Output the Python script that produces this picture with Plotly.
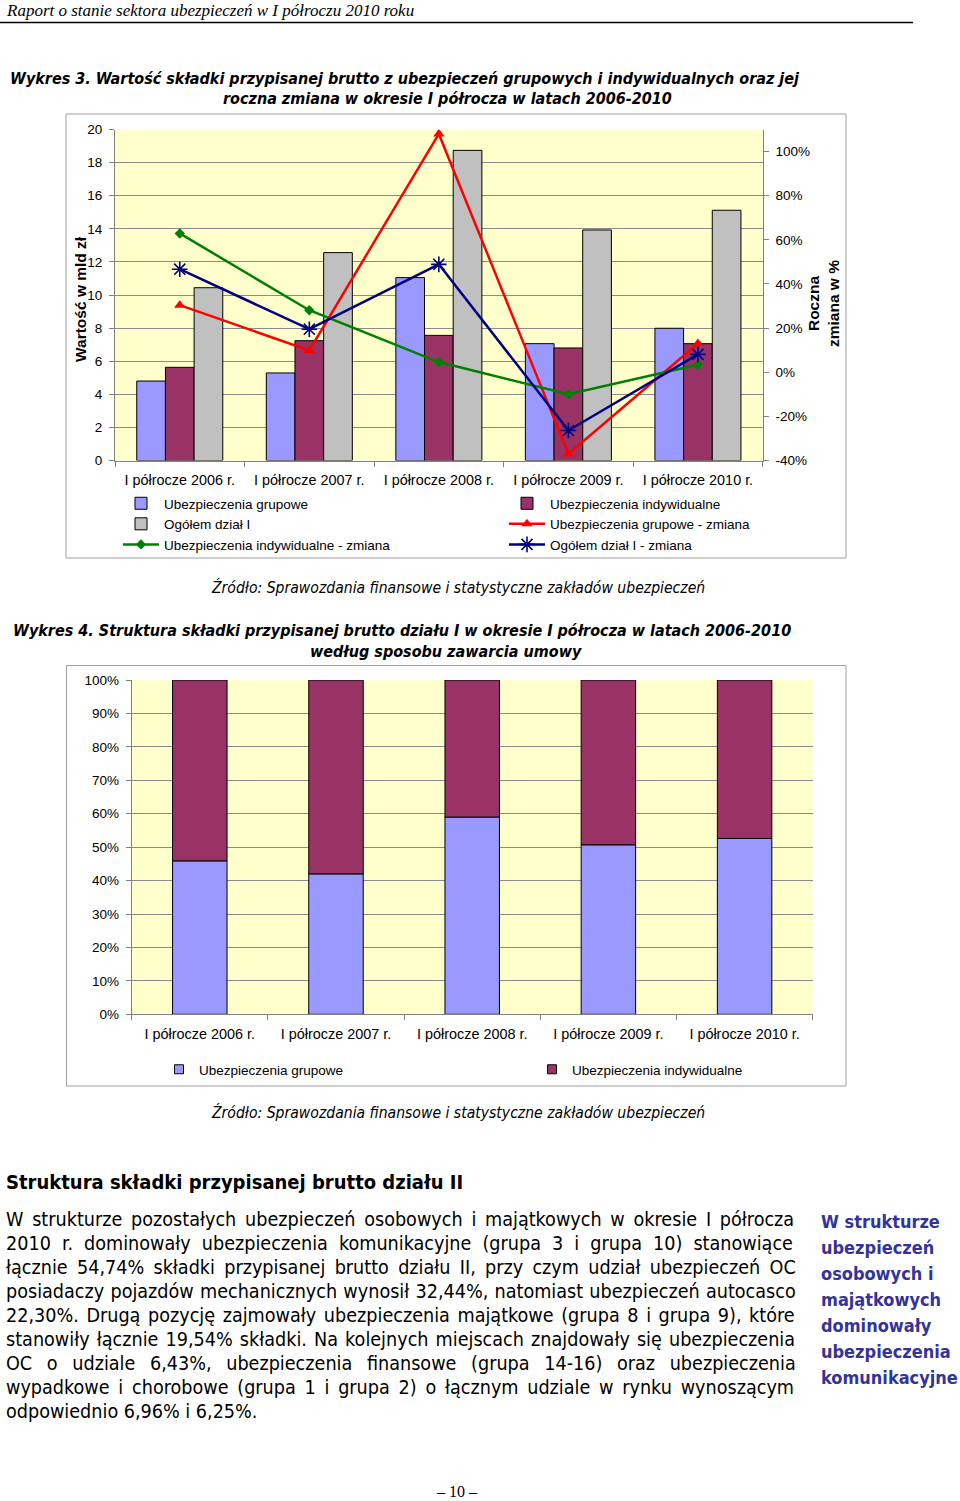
import glob
import struct

import plotly.graph_objects as go

W, H = 960, 1501


def px(x):
    return x / W


def py(y):
    return 1 - y / H


# ---------------- data ----------------
categories = ["I półrocze 2006 r.", "I półrocze 2007 r.", "I półrocze 2008 r.",
              "I półrocze 2009 r.", "I półrocze 2010 r."]
grupowe = [4.80, 5.29, 11.05, 7.06, 7.99]          # mld zł
indywidualne = [5.63, 7.24, 7.56, 6.80, 7.06]      # mld zł
ogolem = [10.44, 12.56, 18.74, 13.93, 15.12]       # mld zł
grupowe_zmiana = [30.4, 9.9, 108.0, -37.0, 13.0]   # %
indywidualne_zmiana = [62.9, 28.1, 4.6, -10.0, 3.4]
ogolem_zmiana = [46.7, 19.5, 48.9, -26.4, 8.1]
udzial_grupowe = [45.9, 42.0, 59.0, 50.7, 52.6]    # % share
udzial_indywidualne = [54.1, 58.0, 41.0, 49.3, 47.4]

left_ticks = [0, 2, 4, 6, 8, 10, 12, 14, 16, 18, 20]
right_ticks = [-40, -20, 0, 20, 40, 60, 80, 100]
right_labels = ["-40%", "-20%", "0%", "20%", "40%", "60%", "80%", "100%"]
pct_ticks = [0, 10, 20, 30, 40, 50, 60, 70, 80, 90, 100]
pct_labels = ["0%", "10%", "20%", "30%", "40%", "50%", "60%", "70%", "80%", "90%", "100%"]

# ---------------- styles ----------------
C_BLUE = "#9999FF"
C_MAROON = "#993366"
C_GRAY = "#C0C0C0"
C_RED = "#FF0000"
C_GREEN = "#008000"
C_NAVY = "#000080"
PLOT_BG = "#FFFFCC"
GRID = "#8C8C8C"
ARIAL = "Liberation Sans, Arial, sans-serif"
TAHOMA = "DejaVu Sans Condensed, DejaVu Sans, sans-serif"
SERIF = "Liberation Serif, Times New Roman, serif"


# ---------- font metrics (for justified paragraph) ----------
def load_width_fn(name):
    paths = glob.glob("/usr/share/fonts/**/" + name, recursive=True)
    if not paths:
        return None
    try:
        data = open(paths[0], "rb").read()
        num = struct.unpack(">H", data[4:6])[0]
        tables = {}
        for i in range(num):
            tag, _cs, off, ln = struct.unpack(">4sIII", data[12 + 16 * i:28 + 16 * i])
            tables[tag.decode("latin1")] = off
        head = tables["head"]
        upem = struct.unpack(">H", data[head + 18:head + 20])[0]
        hhea = tables["hhea"]
        nhm = struct.unpack(">H", data[hhea + 34:hhea + 36])[0]
        hmtx = tables["hmtx"]
        adv = [struct.unpack(">H", data[hmtx + 4 * i:hmtx + 4 * i + 2])[0] for i in range(nhm)]
        cmap = tables["cmap"]
        n = struct.unpack(">H", data[cmap + 2:cmap + 4])[0]
        sub = None
        for i in range(n):
            pid, eid, off = struct.unpack(">HHI", data[cmap + 4 + 8 * i:cmap + 12 + 8 * i])
            if pid == 3 and eid == 1:
                sub = cmap + off
        if sub is None or struct.unpack(">H", data[sub:sub + 2])[0] != 4:
            return None
        segx2 = struct.unpack(">H", data[sub + 6:sub + 8])[0]
        seg = segx2 // 2
        ends = struct.unpack(">%dH" % seg, data[sub + 14:sub + 14 + segx2])
        starts = struct.unpack(">%dH" % seg, data[sub + 16 + segx2:sub + 16 + 2 * segx2])
        deltas = struct.unpack(">%dh" % seg, data[sub + 16 + 2 * segx2:sub + 16 + 3 * segx2])
        rpos = sub + 16 + 3 * segx2
        roffs = struct.unpack(">%dH" % seg, data[rpos:rpos + segx2])

        def glyph(c):
            for i in range(seg):
                if ends[i] >= c:
                    if starts[i] > c:
                        return 0
                    if roffs[i] == 0:
                        return (c + deltas[i]) & 0xFFFF
                    addr = rpos + 2 * i + roffs[i] + 2 * (c - starts[i])
                    g = struct.unpack(">H", data[addr:addr + 2])[0]
                    return (g + deltas[i]) & 0xFFFF if g else 0
            return 0

        def width(s, size):
            return sum(adv[min(glyph(ord(ch)), nhm - 1)] for ch in s) * size / upem

        return width
    except Exception:
        return None


text_width = load_width_fn("DejaVuSansCondensed.ttf")

fig = go.Figure()

# ---------------- chart 1 ----------------
for name, vals, col in [("Ubezpieczenia grupowe", grupowe, C_BLUE),
                        ("Ubezpieczenia indywidualne", indywidualne, C_MAROON),
                        ("Ogółem dział I", ogolem, C_GRAY)]:
    fig.add_trace(go.Bar(x=categories, y=vals, name=name, xaxis="x", yaxis="y",
                         marker=dict(color=col, line=dict(color="black", width=1)),
                         legend="legend"))

fig.add_trace(go.Scatter(x=categories, y=grupowe_zmiana, name="Ubezpieczenia grupowe - zmiana",
                         xaxis="x", yaxis="y2", mode="lines+markers",
                         line=dict(color=C_RED, width=2.5),
                         marker=dict(symbol="triangle-up", size=10, color=C_RED),
                         legend="legend"))
fig.add_trace(go.Scatter(x=categories, y=indywidualne_zmiana, name="Ubezpieczenia indywidualne - zmiana",
                         xaxis="x", yaxis="y2", mode="lines+markers",
                         line=dict(color=C_GREEN, width=2.5),
                         marker=dict(symbol="diamond", size=8, color=C_GREEN),
                         legend="legend"))
fig.add_trace(go.Scatter(x=categories, y=ogolem_zmiana, name="Ogółem dział I - zmiana",
                         xaxis="x", yaxis="y2", mode="lines+markers",
                         line=dict(color=C_NAVY, width=2.5),
                         marker=dict(symbol="asterisk-open", size=13, color=C_NAVY,
                                     line=dict(color=C_NAVY, width=1.6)),
                         legend="legend"))

# ---------------- chart 2 ----------------
fig.add_trace(go.Bar(x=categories, y=udzial_grupowe, name="Ubezpieczenia grupowe",
                     xaxis="x2", yaxis="y3", offsetgroup="s", offset=-0.2, width=0.4,
                     marker=dict(color=C_BLUE, line=dict(color="black", width=1)),
                     showlegend=False))
fig.add_trace(go.Bar(x=categories, y=udzial_indywidualne, base=udzial_grupowe,
                     name="Ubezpieczenia indywidualne",
                     xaxis="x2", yaxis="y3", offsetgroup="s", offset=-0.2, width=0.4,
                     marker=dict(color=C_MAROON, line=dict(color="black", width=1)),
                     showlegend=False))
for name, col in [("Ubezpieczenia grupowe", C_BLUE), ("Ubezpieczenia indywidualne", C_MAROON)]:
    fig.add_trace(go.Scatter(x=[None], y=[None], name=name, xaxis="x2", yaxis="y3",
                             mode="markers",
                             marker=dict(symbol="square", size=9, color=col,
                                         line=dict(color="black", width=1)),
                             legend="legend2"))

axis_font = dict(family=ARIAL, size=13.5, color="black")
cat_font = dict(family=ARIAL, size=14.4, color="black")

fig.update_layout(
    width=W, height=H, autosize=False,
    margin=dict(l=0, r=0, t=0, b=0, pad=0, autoexpand=False),
    paper_bgcolor="white",
    plot_bgcolor=PLOT_BG,
    barmode="group", bargap=0.336, bargroupgap=0,
    xaxis=dict(domain=[px(115), px(762.7)], anchor="y", type="category",
               tickson="boundaries", ticks="outside", ticklen=5, tickcolor="#808080",
               showline=True, linecolor="#808080", linewidth=1, showgrid=False,
               tickfont=cat_font, ticklabelstandoff=6, automargin=False),
    yaxis=dict(domain=[py(460.5), py(129.5)], anchor="x", range=[0, 20],
               tickvals=left_ticks, ticks="outside", ticklen=5, tickcolor="#808080",
               showline=True, linecolor="#808080", showgrid=True, gridcolor=GRID,
               gridwidth=1, zeroline=False, tickfont=axis_font, ticklabelstandoff=4,
               automargin=False),
    yaxis2=dict(overlaying="y", side="right", anchor="x", range=[-40, 110],
                tickvals=right_ticks, ticktext=right_labels, ticks="outside", ticklen=5,
                tickcolor="#808080", showline=True, linecolor="#808080",
                showgrid=False, zeroline=False, tickfont=axis_font, ticklabelstandoff=4,
                automargin=False),
    xaxis2=dict(domain=[px(131.7), px(812.7)], anchor="y3", type="category",
                tickson="boundaries", ticks="outside", ticklen=5, tickcolor="#808080",
                showline=True, linecolor="#808080", showgrid=False,
                tickfont=cat_font, ticklabelstandoff=6, automargin=False),
    yaxis3=dict(domain=[py(1014.3), py(680)], anchor="x2", range=[0, 100],
                tickvals=pct_ticks, ticktext=pct_labels, ticks="outside", ticklen=5,
                tickcolor="#808080", showline=True, linecolor="#808080",
                showgrid=True, gridcolor=GRID, zeroline=False, tickfont=axis_font,
                ticklabelstandoff=4, automargin=False),
    legend=dict(orientation="h", x=px(118), y=py(488), xanchor="left", yanchor="top",
                entrywidth=335, entrywidthmode="pixels", itemwidth=36,
                font=dict(family=ARIAL, size=13.5, color="black"),
                bgcolor="rgba(0,0,0,0)", traceorder="normal", tracegroupgap=0),
    legend2=dict(orientation="h", x=px(159), y=py(1054), xanchor="left", yanchor="top",
                 entrywidth=328, entrywidthmode="pixels", itemwidth=30,
                 font=dict(family=ARIAL, size=13.5, color="black"),
                 bgcolor="rgba(0,0,0,0)", traceorder="normal"),
)

shapes = [
    # header rule
    dict(type="line", xref="paper", yref="paper", x0=px(0), x1=px(913), y0=py(22.5), y1=py(22.5),
         line=dict(color="black", width=1.5)),
    # chart frames
    dict(type="rect", xref="paper", yref="paper", x0=px(66), x1=px(846), y0=py(558), y1=py(114),
         line=dict(color="#A0A0A0", width=1), layer="below"),
    dict(type="rect", xref="paper", yref="paper", x0=px(66.5), x1=px(846), y0=py(1086), y1=py(665.5),
         line=dict(color="#A0A0A0", width=1), layer="below"),
]
fig.update_layout(shapes=shapes)

ann = []


def text(x, y, t, size, family, anchor="left", color="black", angle=0):
    ann.append(dict(x=px(x), y=py(y), xref="paper", yref="paper", text=t, showarrow=False,
                    xanchor=anchor, yanchor="middle", textangle=angle,
                    font=dict(family=family, size=size, color=color)))


text(4, 10, "<i>Raport o stanie sektora ubezpieczeń w I półroczu 2010 roku</i>", 17, SERIF)

text(8, 78, "<b><i>Wykres 3. Wartość składki przypisanej brutto z ubezpieczeń grupowych i indywidualnych oraz jej</i></b>",
     16, TAHOMA)
text(447, 98, "<b><i>roczna zmiana w okresie I półrocza w latach 2006-2010</i></b>", 16, TAHOMA, "center")

text(80, 299, "<b>Wartość w mld zł</b>", 15.5, ARIAL, "center", angle=-90)
text(824, 304, "<b>Roczna<br>zmiana w %</b>", 15.5, ARIAL, "center", angle=-90)

text(458, 587, "<i>Źródło: Sprawozdania finansowe i statystyczne zakładów ubezpieczeń</i>", 15.6, TAHOMA, "center")

text(11, 631, "<b><i>Wykres 4. Struktura składki przypisanej brutto działu I w okresie I półrocza w latach 2006-2010</i></b>",
     16, TAHOMA)
text(446, 651, "<b><i>według sposobu zawarcia umowy</i></b>", 16, TAHOMA, "center")

text(458, 1112, "<i>Źródło: Sprawozdania finansowe i statystyczne zakładów ubezpieczeń</i>", 15.6, TAHOMA, "center")

text(4, 1182, "<b>Struktura składki przypisanej brutto działu II</b>", 20, TAHOMA)

para = [
    "W strukturze pozostałych ubezpieczeń osobowych i majątkowych w okresie I półrocza",
    "2010 r. dominowały ubezpieczenia komunikacyjne (grupa 3 i grupa 10) stanowiące",
    "łącznie 54,74% składki przypisanej brutto działu II, przy czym udział ubezpieczeń OC",
    "posiadaczy pojazdów mechanicznych wynosił 32,44%, natomiast ubezpieczeń autocasco",
    "22,30%. Drugą pozycję zajmowały ubezpieczenia majątkowe (grupa 8 i grupa 9), które",
    "stanowiły łącznie 19,54% składki. Na kolejnych miejscach znajdowały się ubezpieczenia",
    "OC o udziale 6,43%, ubezpieczenia finansowe (grupa 14-16) oraz ubezpieczenia",
    "wypadkowe i chorobowe (grupa 1 i grupa 2) o łącznym udziale w rynku wynoszącym",
    "odpowiednio 6,96% i 6,25%.",
]
PARA_SIZE = 19.6
PARA_LEFT, PARA_RIGHT = 5, 795
for i, line in enumerate(para):
    t = line
    if text_width is not None and i < len(para) - 1:
        natural = text_width(line, PARA_SIZE)
        nsp = line.count(" ")
        extra = (PARA_RIGHT - PARA_LEFT - natural) / max(nsp, 1)
        if 0 < extra < 12:
            t = '<span style="word-spacing:%.2fpx">%s</span>' % (extra, line)
    text(PARA_LEFT - 1, 1219 + i * 24.1, t, PARA_SIZE, TAHOMA)

side = ["W strukturze", "ubezpieczeń", "osobowych i", "majątkowych", "dominowały",
        "ubezpieczenia", "komunikacyjne"]
for i, line in enumerate(side):
    text(819, 1221 + i * 26, "<b>" + line + "</b>", 18, TAHOMA, color="#333399")

text(457, 1491, "– 10 –", 16, SERIF, "center")

fig.update_layout(annotations=ann)

fig.write_html("out.html",
               config={"displayModeBar": False},
               post_script="document.body.style.margin='0';document.body.style.padding='0';"
                           "document.documentElement.style.overflow='hidden';")
